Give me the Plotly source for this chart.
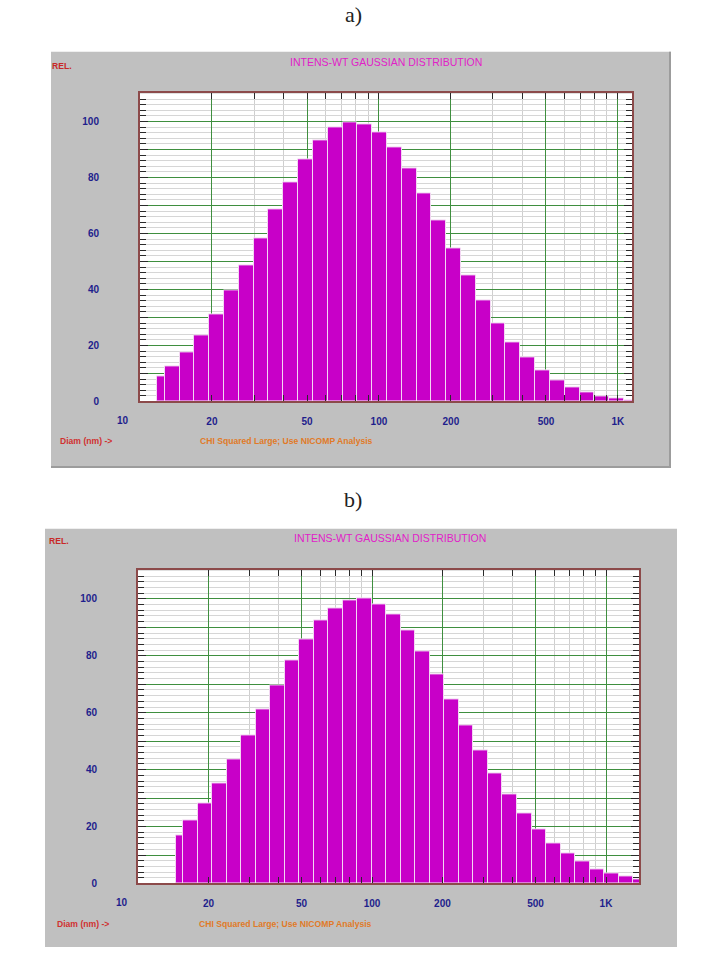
import numpy as np
import plotly.graph_objects as go

W, H = 706, 963

# ---------------- data ----------------
# bin edges (nm) and relative intensities, panel a
a_edges_nm = [11.81, 12.69, 14.64, 16.88, 19.47, 22.46, 25.91, 29.88, 34.47, 39.76,
              45.86, 52.90, 61.02, 70.38, 81.18, 93.63, 108.0, 124.6, 143.7, 165.8,
              191.2, 220.5, 254.4, 293.4, 338.4, 390.3, 450.2, 519.3, 599.0, 690.9,
              796.9, 919.2, 1060.2, 1222.9]
a_rel = [9.0, 12.7, 17.7, 23.7, 31.2, 39.8, 48.7, 58.4, 68.7, 78.1, 86.4, 93.1, 97.7,
         99.6, 99.1, 96.1, 90.6, 83.2, 74.3, 64.5, 54.6, 45.1, 36.2, 27.9, 21.1, 15.7,
         11.2, 7.6, 5.0, 3.2, 1.9, 1.1, 0.5]

# panel b
b_edges_nm = [14.54, 15.62, 18.01, 20.78, 23.96, 27.64, 31.88, 36.78, 42.43, 48.94,
              56.45, 65.11, 75.10, 86.63, 99.91, 115.2, 132.9, 153.3, 176.8, 204.0,
              235.3, 271.4, 313.1, 361.1, 416.6, 480.5, 554.2, 639.2, 737.3, 850.5,
              981.0, 1131.6, 1305.2, 1505.5]
b_rel = [16.9, 22.1, 28.3, 35.3, 43.5, 51.9, 61.0, 69.7, 78.3, 85.8, 92.3, 96.7, 99.4,
         100.0, 98.2, 94.5, 88.9, 81.5, 73.5, 64.8, 55.7, 46.9, 38.6, 31.2, 24.7, 19.0,
         14.1, 10.6, 7.7, 5.0, 3.6, 2.3, 1.5]

x_major_nm = [10, 20, 50, 100, 200, 500, 1000]
x_major_text = ["10", "20", "50", "100", "200", "500", "1K"]
x_minor_nm = [30, 40, 60, 70, 80, 90, 300, 400, 600, 700, 800, 900]
y_major = [0, 10, 20, 30, 40, 50, 60, 70, 80, 90, 100]
y_major_text = ["0", "", "20", "", "40", "", "60", "", "80", "", "100"]

title_text = "INTENS-WT GAUSSIAN DISTRIBUTION"
rel_text = "REL."
diam_text = "Diam (nm) ->"
chi_text = "CHI Squared Large; Use NICOMP Analysis"

# ---------------- styles / layout geometry (pixels) ----------------
BAR_COLOR = "#c800c8"
GRAY = "#c0c0c0"
NAVY = "#1e1e8c"
TICKFONT = dict(family="Liberation Sans", size=10, color=NAVY, weight="bold")
panels = [
    dict(name="a)", lab_y=15, box=(51, 52, 671, 471), plot=(140, 94, 632, 404),
         xmax=3.059, title_y=62, rel=(50, 66), foot_y=444, diam_x=58, chi_x=198,
         title_cx=386, first_lab_x=123, first_lab_y=423,
         edges=a_edges_nm, vals=a_rel, shade=True),
    dict(name="b)", lab_y=503, box=(45, 532, 677, 953), plot=(138, 574, 639, 889),
         xmax=3.141, title_y=541, rel=(47, 544), foot_y=930, diam_x=55, chi_x=197,
         title_cx=390, first_lab_x=122, first_lab_y=908,
         edges=b_edges_nm, vals=b_rel, shade=False),
]


def px(x):
    return x / W


def py(y):
    return 1 - y / H


fig = go.Figure()
shapes = []
annotations = []

for i, p in enumerate(panels):
    sfx = "" if i == 0 else str(i + 1)
    xa, ya = "x" + sfx, "y" + sfx
    x0, y0, x1, y1 = p["plot"]
    bx0, by0, bx1, by1 = p["box"]

    # gray instrument panel and white plot area
    shapes.append(dict(type="rect", xref="paper", yref="paper", layer="below",
                       x0=px(bx0), x1=px(bx1), y0=py(by1), y1=py(by0),
                       fillcolor=GRAY, line=dict(width=0)))
    if p["shade"]:
        shapes.append(dict(type="line", xref="paper", yref="paper", layer="below",
                           x0=px(bx0), x1=px(bx1), y0=py(by1 - 1), y1=py(by1 - 1),
                           line=dict(color="#9c9c9c", width=2)))
        shapes.append(dict(type="line", xref="paper", yref="paper", layer="below",
                           x0=px(bx1 - 1), x1=px(bx1 - 1), y0=py(by1), y1=py(by0),
                           line=dict(color="#9c9c9c", width=2)))
    shapes.append(dict(type="rect", xref="paper", yref="paper", layer="below",
                       x0=px(x0), x1=px(x1), y0=py(y1), y1=py(y0),
                       fillcolor="white", line=dict(width=0)))

    le = np.log10(np.array(p["edges"], dtype=float))
    fig.add_trace(go.Bar(
        x=(le[:-1] + le[1:]) / 2, y=p["vals"], width=np.diff(le),
        marker=dict(color=BAR_COLOR, line=dict(color="#f2d6f2", width=1)),
        xaxis=xa, yaxis=ya, showlegend=False, hoverinfo="skip"))

    # the first x label ("10") sits left of the plot frame in the original
    shown_text = [""] + x_major_text[1:]

    fig.update_layout({
        "xaxis" + sfx: dict(
            domain=[px(x0), px(x1)], range=[1.0, p["xmax"]], anchor=ya,
            tickmode="array", tickvals=np.log10(x_major_nm), ticktext=shown_text,
            showgrid=True, gridcolor="#3f8f3f", gridwidth=1,
            ticks="inside", ticklen=6, tickcolor="#2a2a2a",
            minor=dict(tickmode="array", tickvals=np.log10(x_minor_nm), showgrid=True,
                       gridcolor="#cfcfcf", ticks="inside", ticklen=6,
                       tickcolor="#2a2a2a"),
            showline=True, linecolor="#8c4a4a", linewidth=2, mirror="ticks",
            tickfont=TICKFONT, ticklabelstandoff=10, zeroline=False, fixedrange=True),
        "yaxis" + sfx: dict(
            domain=[py(y1), py(y0)], range=[0, 110], anchor=xa,
            tickmode="array", tickvals=y_major, ticktext=y_major_text,
            showgrid=True, gridcolor="#3f8f3f", gridwidth=1,
            ticks="inside", ticklen=8, tickcolor="#2a2a2a",
            minor=dict(dtick=2, showgrid=True, gridcolor="#d6d6d6", ticks="inside",
                       ticklen=6, tickcolor="#2a2a2a"),
            showline=True, linecolor="#8c4a4a", linewidth=2, mirror="ticks",
            tickfont=TICKFONT, ticklabelstandoff=37, zeroline=False, fixedrange=True),
    })

    annotations += [
        dict(text=p["name"], x=px(353), y=py(p["lab_y"]), xref="paper", yref="paper",
             showarrow=False, xanchor="center", yanchor="middle",
             font=dict(family="Liberation Serif", size=22, color="#222222")),
        dict(text=title_text, x=px(p["title_cx"]), y=py(p["title_y"]), xref="paper",
             yref="paper", showarrow=False, xanchor="center", yanchor="middle",
             font=dict(family="Liberation Sans", size=10.5, color="#e020c8")),
        dict(text=rel_text, x=px(p["rel"][0]), y=py(p["rel"][1]), xref="paper",
             yref="paper", showarrow=False, xanchor="left", yanchor="middle",
             font=dict(family="Liberation Sans", size=8.6, color="#c82828", weight="bold")),
        dict(text=diam_text, x=px(p["diam_x"]), y=py(p["foot_y"]), xref="paper",
             yref="paper", showarrow=False, xanchor="left", yanchor="middle",
             font=dict(family="Liberation Sans", size=8.6, color="#d03030", weight="bold")),
        dict(text=chi_text, x=px(p["chi_x"]), y=py(p["foot_y"]), xref="paper",
             yref="paper", showarrow=False, xanchor="left", yanchor="middle",
             font=dict(family="Liberation Sans", size=8.6, color="#e07a28", weight="bold")),
        dict(text=x_major_text[0], x=px(p["first_lab_x"]), y=py(p["first_lab_y"]),
             xref="paper", yref="paper", showarrow=False, xanchor="center",
             yanchor="middle", font=TICKFONT),
    ]

fig.update_layout(
    width=W, height=H, margin=dict(l=0, r=0, t=0, b=0),
    paper_bgcolor="white", plot_bgcolor="rgba(0,0,0,0)",
    shapes=shapes, annotations=annotations, bargap=0, showlegend=False,
)

fig.write_html("out.html")
